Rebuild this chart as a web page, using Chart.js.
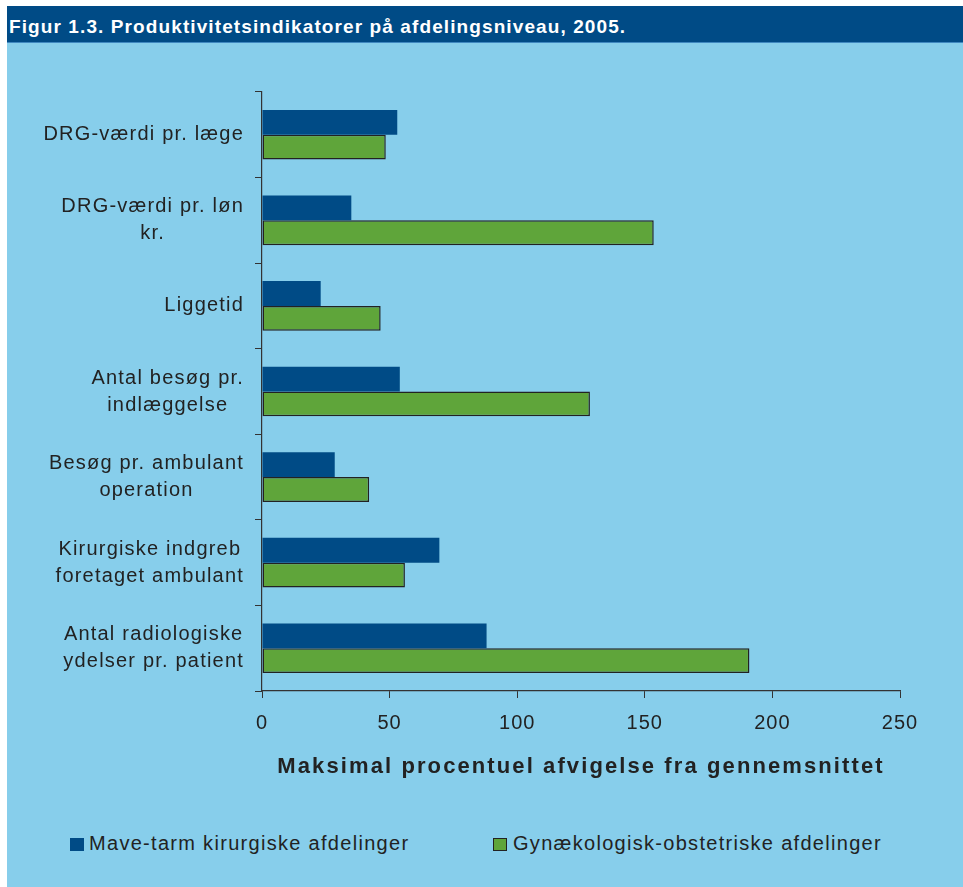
<!DOCTYPE html>
<html>
<head>
<meta charset="utf-8">
<script src="https://cdn.jsdelivr.net/npm/chart.js@4/dist/chart.umd.min.js"></script>
<style>
    html, body { margin: 0; padding: 0; background: #ffffff; }
    #frame {
        position: absolute; left: 7px; top: 6px; width: 956px; height: 881px;
        background: #87ceeb; font-family: 'Liberation Sans', Arial, sans-serif;
    }
    #header {
        position: absolute; left: 0; top: 0; right: 0; height: 36px;
        background: #004b86; border-bottom: 1px solid #3f88c0;
        color: #ffffff; font-weight: bold; font-size: 19px;
    }
    #header span { position: absolute; left: 2px; top: 2px; height: 35px; line-height: 37px; letter-spacing: 1.1px; white-space: nowrap; }
    #chart { position: absolute; left: 0; top: 37px; }
    .leg { position: absolute; top: 826px; height: 22px; font-size: 20px; letter-spacing: 1.3px; color: #222222; line-height: 22px; white-space: nowrap; }
    .leg i { position: absolute; top: 6px; width: 14px; height: 13px; }
</style>
</head>
<body>
<div id="frame">
    <div id="header"><span>Figur 1.3. Produktivitetsindikatorer på afdelingsniveau, 2005.</span></div>
    <canvas id="chart" width="956" height="757"></canvas>
    <div id="legend"></div>
</div>
<script>
(function () {
    var categories = [
        ['DRG-værdi pr. læge'],
        ['DRG-værdi pr. løn', 'kr.'],
        ['Liggetid'],
        ['Antal besøg pr.', 'indlæggelse'],
        ['Besøg pr. ambulant', 'operation'],
        ['Kirurgiske indgreb', 'foretaget ambulant'],
        ['Antal radiologiske', 'ydelser pr. patient']
    ];
    var seriesNames = ['Mave-tarm kirurgiske afdelinger', 'Gynækologisk-obstetriske afdelinger'];
    var maveTarm = [53, 35, 23, 54, 28.5, 69.5, 88];
    var gynObst = [48.5, 153.5, 46.5, 128.5, 42, 56, 191];
    var xTicks = [0, 50, 100, 150, 200, 250];
    var axisTitle = 'Maksimal procentuel afvigelse fra gennemsnittet';

    var blue = '#004b86';
    var green = '#5fa53a';
    var ink = '#222222';
    var axisColor = '#333333';
    var fontFamily = '"Liberation Sans", Arial, sans-serif';

    // wider spacing for the axis title (drawn with the grid), normal for tick labels
    var spacingPlugin = {
        id: 'spacing',
        beforeDraw: function (chart) { chart.ctx.letterSpacing = '2.1px'; },
        beforeDatasetsDraw: function (chart) { chart.ctx.letterSpacing = '1px'; },
        afterDraw: function (chart) { chart.ctx.letterSpacing = '0px'; }
    };

    // category labels: lines centred on each other, block right-aligned by the axis
    var yLabelPlugin = {
        id: 'yLabels',
        afterDraw: function (chart) {
            var ctx = chart.ctx;
            var yScale = chart.scales.y;
            var right = chart.chartArea.left - 18;
            ctx.save();
            ctx.letterSpacing = '1.2px';
            ctx.font = '20px ' + fontFamily;
            ctx.fillStyle = ink;
            ctx.textAlign = 'center';
            ctx.textBaseline = 'middle';
            categories.forEach(function (lines, i) {
                var yc = yScale.getPixelForValue(i);
                var maxW = 0;
                lines.forEach(function (l) { maxW = Math.max(maxW, ctx.measureText(l).width); });
                lines.forEach(function (l, j) {
                    ctx.fillText(l, right - maxW / 2, yc + (j - (lines.length - 1) / 2) * 27);
                });
            });
            ctx.restore();
        }
    };

    new Chart(document.getElementById('chart'), {
        type: 'bar',
        data: {
            labels: categories.map(function (c) { return c.join(' '); }),
            datasets: [
                {
                    label: seriesNames[0],
                    data: maveTarm,
                    backgroundColor: blue,
                    borderWidth: 0,
                    barPercentage: 1,
                    categoryPercentage: 0.58
                },
                {
                    label: seriesNames[1],
                    data: gynObst,
                    backgroundColor: green,
                    borderColor: ink,
                    borderWidth: 1.5,
                    borderSkipped: false,
                    barPercentage: 1,
                    categoryPercentage: 0.58
                }
            ]
        },
        options: {
            indexAxis: 'y',
            responsive: false,
            devicePixelRatio: 1,
            animation: false,
            layout: { padding: { top: 49, right: 63, left: 0, bottom: 0 } },
            plugins: {
                legend: { display: false },
                tooltip: { enabled: false }
            },
            scales: {
                y: {
                    offset: true,
                    ticks: { display: false },
                    grid: { drawOnChartArea: false, offset: true, tickLength: 7, color: axisColor, lineWidth: 1 },
                    border: { color: axisColor, width: 1.2 },
                    afterFit: function (scale) { scale.width = 255; }
                },
                x: {
                    min: 0,
                    max: 250,
                    afterBuildTicks: function (scale) {
                        scale.ticks = xTicks.map(function (v) { return { value: v }; });
                    },
                    ticks: {
                        z: 1,
                        color: ink,
                        padding: 13,
                        font: { family: fontFamily, size: 20 }
                    },
                    grid: { drawOnChartArea: false, tickLength: 7, color: axisColor, lineWidth: 1 },
                    border: { color: axisColor, width: 1.2 },
                    title: {
                        display: true,
                        text: axisTitle,
                        color: ink,
                        padding: { top: 0, bottom: 20 },
                        font: { family: fontFamily, size: 22, weight: 'bold' }
                    },
                    afterFit: function (scale) { scale.height = 109; }
                }
            }
        },
        plugins: [spacingPlugin, yLabelPlugin]
    });

    // legend built from the series names and colours
    var legend = document.getElementById('legend');
    var legendX = [63, 486];
    seriesNames.forEach(function (name, i) {
        var item = document.createElement('div');
        item.className = 'leg';
        item.style.left = legendX[i] + 'px';
        var box = document.createElement('i');
        box.style.left = '0px';
        box.style.background = i === 0 ? blue : green;
        if (i === 1) { box.style.boxSizing = 'border-box'; box.style.border = '1.5px solid ' + ink; }
        var txt = document.createElement('span');
        txt.style.marginLeft = (i === 0 ? 19 : 20) + 'px';
        txt.textContent = name;
        item.appendChild(box);
        item.appendChild(txt);
        legend.appendChild(item);
    });
})();
</script>
</body>
</html>
